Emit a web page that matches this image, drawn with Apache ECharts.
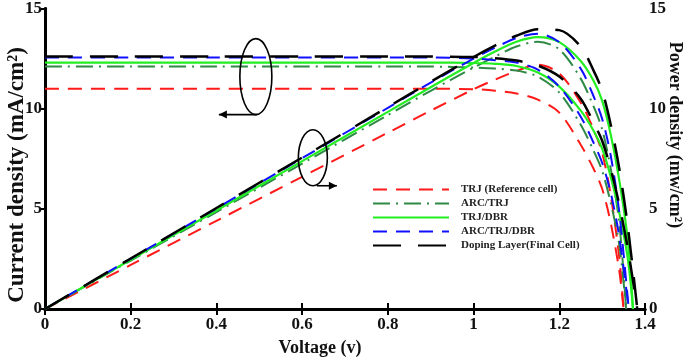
<!DOCTYPE html>
<html>
<head>
<meta charset="utf-8">
<script src="https://cdn.jsdelivr.net/npm/echarts@6/dist/echarts.min.js"></script>
<style>
    html, body { margin: 0; padding: 0; background: #fff; }
    #chart { width: 685px; height: 361px; }
</style>
</head>
<body>
<div id="chart"></div>
<script>
const cells = ['TRJ (Reference cell)', 'ARC/TRJ', 'TRJ/DBR', 'ARC/TRJ/DBR', 'Doping Layer(Final Cell)'];
const voltage = [0, 0.2, 0.4, 0.6, 0.8, 0.9, 1.0, 1.05, 1.1, 1.15, 1.2, 1.25, 1.28, 1.3, 1.32, 1.34, 1.36];
const voc = [1.35, 1.356, 1.372, 1.362, 1.382];
const xTicks = [0, 0.2, 0.4, 0.6, 0.8, 1, 1.2, 1.4];
const yTicks = [0, 5, 10, 15];

// current density (mA/cm2), null after Voc
const jTRJ    = [11.0, 11.0, 11.0, 11.0, 11.0, 11.0, 10.97, 10.9, 10.76, 10.45, 9.8, 8.2, 7.0, 6.0, 4.3, 1.9, null];
const jARC    = [12.1, 12.1, 12.1, 12.1, 12.1, 12.1, 12.05, 12.0, 11.9, 11.6, 10.8, 9.2, 7.9, 6.9, 5.3, 3.2, null];
const jDBR    = [12.3, 12.3, 12.3, 12.3, 12.3, 12.3, 12.28, 12.24, 12.13, 11.8, 11.1, 9.9, 8.9, 8.0, 6.6, 4.8, 2.5];
const jARCDBR = [12.55, 12.55, 12.55, 12.55, 12.55, 12.55, 12.5, 12.42, 12.3, 11.95, 11.1, 9.6, 8.3, 7.3, 5.8, 3.6, null];
const jDoping = [12.6, 12.6, 12.6, 12.6, 12.6, 12.6, 12.58, 12.52, 12.4, 12.15, 11.6, 10.5, 9.3, 8.4, 7.0, 5.2, 3.0];

// power density (mW/cm2)
const pTRJ    = [0, 2.2, 4.4, 6.6, 8.8, 9.9, 10.97, 11.45, 11.88, 12.19, 11.76, 10.3, 8.96, 7.8, 5.68, 2.55, null];
const pARC    = [0, 2.42, 4.84, 7.26, 9.68, 10.89, 12.05, 12.6, 13.1, 13.34, 12.96, 11.5, 10.11, 8.97, 7.0, 4.29, null];
const pDBR    = [0, 2.46, 4.92, 7.38, 9.84, 11.07, 12.28, 12.85, 13.34, 13.57, 13.32, 12.38, 11.39, 10.4, 8.71, 6.43, 3.4];
const pARCDBR = [0, 2.51, 5.02, 7.53, 10.04, 11.3, 12.5, 13.04, 13.53, 13.74, 13.32, 12.0, 10.62, 9.49, 7.66, 4.82, null];
const pDoping = [0, 2.52, 5.04, 7.56, 10.08, 11.34, 12.58, 13.15, 13.64, 13.97, 13.92, 13.1, 11.9, 10.9, 9.2, 7.0, 4.1];

const currents = [jTRJ, jARC, jDBR, jARCDBR, jDoping];
const powers = [pTRJ, pARC, pDBR, pARCDBR, pDoping];
const colors = ['#ff1a1a', '#2e8a45', '#22ee22', '#1010ff', '#000000'];
const dashes = [[14, 9], [17, 6, 2, 6], 'solid', [14, 9], [28, 17]];
const widths = [2, 2, 2.2, 2, 2.5];

const FONT = '"Times New Roman", "Liberation Serif", serif';

function toPairs(values, i) {
    const pts = [];
    voltage.forEach((v, k) => {
        if (values[k] != null) pts.push([v, values[k]]);
    });
    pts.push([voc[i], 0]);
    return pts;
}

const series = [];
cells.forEach((name, i) => {
    [currents[i], powers[i]].forEach((vals, which) => {
        series.push({
            name: name,
            type: 'line',
            yAxisIndex: which,
            data: toPairs(vals, i),
            symbol: 'none',
            smooth: 0.3,
            animation: false,
            lineStyle: { color: colors[i], width: widths[i], type: dashes[i] },
            itemStyle: { color: colors[i] },
            z: 2 + i
        });
    });
});

const tickLabel = { fontFamily: FONT, fontWeight: 'bold', fontSize: 17, color: '#111' };

const chart = echarts.init(document.getElementById('chart'));
chart.setOption({
    animation: false,
    grid: { left: 45, right: 40, top: 7, bottom: 52 },
    legend: {
        data: cells,
        orient: 'vertical',
        left: 372,
        top: 184,
        padding: 0,
        itemWidth: 76,
        itemHeight: 11,
        itemGap: 3,
        itemStyle: { opacity: 0, borderWidth: 0 },
        textStyle: {
            fontFamily: FONT, fontWeight: 'bold', fontSize: 11, color: '#222',
            lineHeight: 11, padding: [0, 0, 0, 7]
        }
    },
    xAxis: [{
        type: 'value', min: 0, max: 1.4, interval: 0.2,
        axisLine: { lineStyle: { color: '#000', width: 3 } },
        axisTick: { inside: true, length: 6, lineStyle: { color: '#000', width: 2 } },
        axisLabel: Object.assign({ margin: 7 }, tickLabel),
        splitLine: { show: false }
    }, {
        type: 'value', min: 0, max: 1.4, interval: 0.2, position: 'top',
        axisLine: { lineStyle: { color: '#000', width: 3 } },
        axisTick: { inside: true, length: 6, lineStyle: { color: '#000', width: 2 } },
        axisLabel: { show: false },
        splitLine: { show: false }
    }],
    yAxis: [{
        type: 'value', min: 0, max: 15, interval: 5,
        axisLine: { show: true, lineStyle: { color: '#000', width: 3 } },
        axisTick: { show: true, inside: false, length: 5, lineStyle: { color: '#000', width: 2 } },
        axisLabel: Object.assign({ margin: 3 }, tickLabel),
        splitLine: { show: false }
    }, {
        type: 'value', min: 0, max: 15, interval: 5, position: 'right',
        axisLine: { show: true, lineStyle: { color: '#000', width: 3 } },
        axisTick: { show: true, inside: true, length: 6, lineStyle: { color: '#000', width: 2 } },
        axisLabel: Object.assign({ margin: 4 }, tickLabel),
        splitLine: { show: false }
    }],
    series: series
});

// annotations: ellipses marking the curve groups, with arrows to their axis
function px(v, y) {
    return chart.convertToPixel({ xAxisIndex: 0, yAxisIndex: 0 }, [v, y]);
}
function marker(center, rx, ry, toLeft, len) {
    const c = px(center[0], center[1]);
    const by = c[1] + ry;
    const bx = c[0] + (toLeft ? 1 : 4);
    const tip = toLeft ? bx - len : bx + len;
    const head = toLeft ? [[tip, by], [tip + 8, by - 4], [tip + 8, by + 4]]
                        : [[tip, by], [tip - 8, by - 4], [tip - 8, by + 4]];
    return [
        { type: 'ellipse', shape: { cx: c[0], cy: c[1], rx: rx, ry: ry },
          style: { fill: 'none', stroke: '#000', lineWidth: 1.6 }, z: 50 },
        { type: 'line', shape: { x1: bx, y1: by, x2: tip, y2: by },
          style: { stroke: '#000', lineWidth: 1.6 }, z: 50 },
        { type: 'polygon', shape: { points: head }, style: { fill: '#000' }, z: 50 }
    ];
}

const titleStyle = { fontFamily: FONT, fontWeight: 'bold', fill: '#111', align: 'center', verticalAlign: 'middle' };

chart.setOption({
    graphic: [].concat(
        marker([0.492, 11.6], 16, 38, true, 38),
        marker([0.625, 7.55], 14.5, 28, false, 20),
        [
            { type: 'text', x: 17, y: 175, rotation: Math.PI / 2,
              style: Object.assign({ text: 'Current density (mA/cm²)', fontSize: 23 }, titleStyle) },
            { type: 'text', x: 675, y: 135, rotation: -Math.PI / 2,
              style: Object.assign({ text: 'Power density (mw/cm²)', fontSize: 18 }, titleStyle) },
            { type: 'text', x: 320, y: 348,
              style: Object.assign({ text: 'Voltage (v)', fontSize: 18 }, titleStyle) }
        ]
    )
});
</script>
</body>
</html>
